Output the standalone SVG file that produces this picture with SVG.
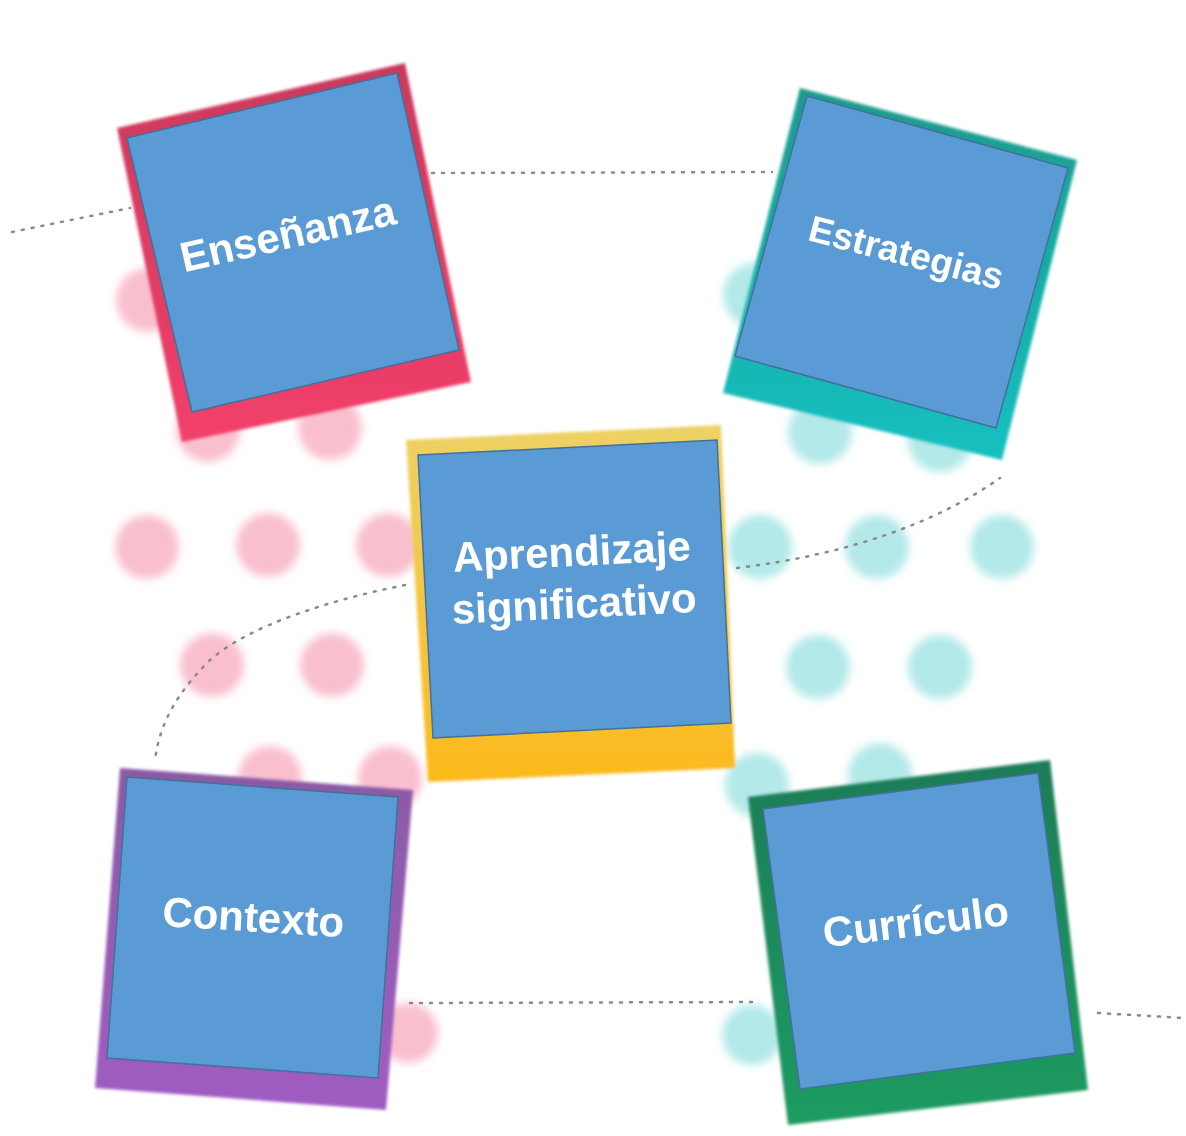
<svg xmlns="http://www.w3.org/2000/svg" width="1186" height="1136" viewBox="0 0 1186 1136">
<defs>
  <filter id="dotblur" x="-50%" y="-50%" width="200%" height="200%"><feGaussianBlur stdDeviation="4"/></filter>
  <filter id="soft" x="-10%" y="-10%" width="120%" height="120%"><feGaussianBlur stdDeviation="1.6"/></filter>
  <filter id="lineblur" x="-5%" y="-50%" width="110%" height="200%"><feGaussianBlur stdDeviation="0.7"/></filter>
  <linearGradient id="gPink" x1="0" y1="0" x2="0" y2="1"><stop offset="0" stop-color="#C9395C"/><stop offset="1" stop-color="#F23F69"/></linearGradient>
  <linearGradient id="gTeal" x1="0" y1="0" x2="0" y2="1"><stop offset="0" stop-color="#1C9A8C"/><stop offset="1" stop-color="#13C0C0"/></linearGradient>
  <linearGradient id="gYellow" x1="0" y1="0" x2="0" y2="1"><stop offset="0" stop-color="#EDD166"/><stop offset="1" stop-color="#FBB91C"/></linearGradient>
  <linearGradient id="gPurple" x1="0" y1="0" x2="0" y2="1"><stop offset="0" stop-color="#8A5AA4"/><stop offset="1" stop-color="#A05CC2"/></linearGradient>
  <linearGradient id="gGreen" x1="0" y1="0" x2="0" y2="1"><stop offset="0" stop-color="#1E7C57"/><stop offset="1" stop-color="#1F9B62"/></linearGradient>
</defs>
<style>
  .pink { fill: #F8B4C7; opacity: 0.85; }
  .teal { fill: #A6E5E5; opacity: 0.85; }
  .dotline { fill: none; stroke: #8A8A8A; stroke-width: 2.5; stroke-dasharray: 2 8; stroke-linecap: round; }
  .frame { filter: url(#soft); }
  .photo { fill: #5B9BD5; stroke: #41719C; stroke-width: 1.5; }
  .label { font-family: "Liberation Sans", Arial, sans-serif; font-weight: bold; fill: #FFFFFF; text-anchor: middle; }
</style>
<rect width="1186" height="1136" fill="#FFFFFF"/>

<g id="background-dots" filter="url(#dotblur)">
  <circle class="pink" cx="148" cy="300" r="32"/>
  <circle class="pink" cx="208" cy="430" r="32"/>
  <circle class="pink" cx="330" cy="428" r="32"/>
  <circle class="pink" cx="147" cy="547" r="32"/>
  <circle class="pink" cx="268" cy="545" r="32"/>
  <circle class="pink" cx="388" cy="545" r="32"/>
  <circle class="pink" cx="212" cy="665" r="32"/>
  <circle class="pink" cx="332" cy="665" r="32"/>
  <circle class="pink" cx="270" cy="778" r="32"/>
  <circle class="pink" cx="390" cy="778" r="32"/>
  <circle class="pink" cx="408" cy="1033" r="30"/>
  <circle class="teal" cx="755" cy="295" r="32"/>
  <circle class="teal" cx="820" cy="432" r="32"/>
  <circle class="teal" cx="940" cy="440" r="32"/>
  <circle class="teal" cx="760" cy="547" r="32"/>
  <circle class="teal" cx="877" cy="547" r="32"/>
  <circle class="teal" cx="1002" cy="547" r="32"/>
  <circle class="teal" cx="818" cy="667" r="32"/>
  <circle class="teal" cx="940" cy="667" r="32"/>
  <circle class="teal" cx="757" cy="785" r="32"/>
  <circle class="teal" cx="880" cy="775" r="32"/>
  <circle class="teal" cx="752" cy="1035" r="30"/>
</g>

<g id="connectors" filter="url(#lineblur)">
  <path class="dotline" d="M12,232 L130,208"/>
  <path class="dotline" d="M432,173 L772,172"/>
  <path class="dotline" d="M737,568 Q900,548 1000,478"/>
  <path class="dotline" d="M405,585 C330,600 250,625 210,660 C180,690 160,720 155,760"/>
  <path class="dotline" d="M410,1003 L758,1002"/>
  <path class="dotline" d="M1098,1013 L1184,1018"/>
</g>

<g id="node-ensenanza">
  <polygon class="frame" fill="url(#gPink)" points="117,128 405,63 471,382 182,442"/>
  <polygon class="photo" points="127,138 397,73 459,350 192,412"/>
  <text class="label" font-size="42" transform="translate(291,248) rotate(-12.8)" x="0" y="0">Enseñanza</text>
</g>

<g id="node-estrategias">
  <polygon class="frame" fill="url(#gTeal)" points="800,88 1077,160 1002,460 723,393"/>
  <polygon class="photo" points="807,96 1068,168 996,428 735,356"/>
  <text class="label" font-size="37" transform="translate(903,265) rotate(14.5)" x="0" y="0">Estrategias</text>
</g>

<g id="node-aprendizaje">
  <polygon class="frame" fill="url(#gYellow)" points="406,440 721,425 735,768 428,782"/>
  <polygon class="photo" points="418,455 717,440 731,723 433,738"/>
  <text class="label" font-size="42" transform="translate(573.6,592) rotate(-2.8)"><tspan x="0" y="-26">Aprendizaje</tspan><tspan x="0" y="26">significativo</tspan></text>
</g>

<g id="node-contexto">
  <polygon class="frame" fill="url(#gPurple)" points="120,768 413,790 386,1110 95,1088"/>
  <polygon class="photo" points="127,777 398,797 378,1078 107,1058"/>
  <text class="label" font-size="42" transform="translate(252.5,931.5) rotate(3.5)" x="0" y="0">Contexto</text>
</g>

<g id="node-curriculo">
  <polygon class="frame" fill="url(#gGreen)" points="748,797 1050,760 1088,1090 788,1125"/>
  <polygon class="photo" points="763,809 1038,773 1075,1053 800,1089"/>
  <text class="label" font-size="42" transform="translate(917.5,936) rotate(-7)" x="0" y="0">Currículo</text>
</g>
</svg>
